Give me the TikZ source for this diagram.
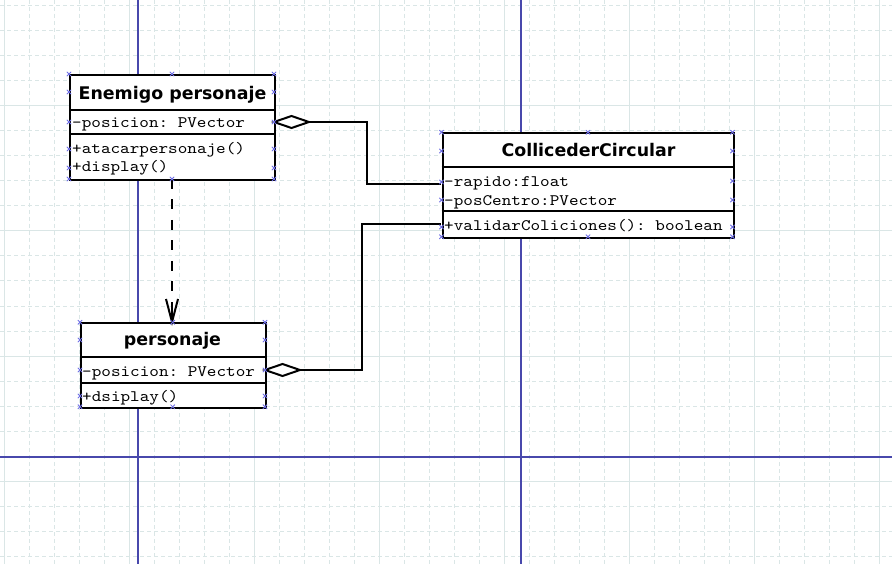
\documentclass[tikz,border=0pt]{standalone}
\usepackage{fontspec}
\setmonofont{lmmono10-regular}[Extension=.otf, FakeStretch=1.143]
\newfontfamily\titlefont{DejaVu Sans}
\definecolor{gridc}{RGB}{218,230,230}
\definecolor{axisc}{RGB}{72,72,172}
\definecolor{handc}{RGB}{110,110,230}
\tikzset{
  umlbox/.style={draw=black, line width=2pt, fill=white, rectangle, inner sep=0pt, anchor=north west},
  sepline/.style={draw=black, line width=2pt},
  titletext/.style={font=\titlefont\bfseries\fontsize{17.4}{20}\selectfont, inner sep=0pt, anchor=base},
  membertext/.style={font=\ttfamily\fontsize{16}{18}\selectfont, inner sep=0pt, anchor=base west},
  conn/.style={draw=black, line width=2pt},
  diam/.style={draw=black, line width=2pt, fill=white, line join=miter},
  dep/.style={draw=black, line width=2.2pt, dash pattern=on 10pt off 10.5pt},
  xmark/.pic={\draw[handc, line width=0.8pt] (-2.2,-2.2) -- (2.2,2.2) (-2.2,2.2) -- (2.2,-2.2);}
}
\begin{document}
\begin{tikzpicture}[x=1pt, y=-1pt]
\useasboundingbox (0,0) rectangle (892,564);
\fill[white] (0,0) rectangle (892,564);
% grid
\foreach \gx in {29,54,79,104,154,179,204,229,279,304,329,354,404,429,454,479,529,554,579,604,654,679,704,729,779,804,829,854}
  \draw[gridc, line width=1pt, dash pattern=on 4pt off 3pt] (\gx,0) -- (\gx,564);
\foreach \gy in {6,31,56,81,131,156,181,206,256,281,306,331,381,406,431,506,531,556}
  \draw[gridc, line width=1pt, dash pattern=on 4pt off 3pt] (0,\gy) -- (892,\gy);
\foreach \gx in {4,129,254,379,504,629,754,879}
  \draw[gridc, line width=1pt] (\gx,0) -- (\gx,564);
\foreach \gy in {106,231,356,481}
  \draw[gridc, line width=1pt] (0,\gy) -- (892,\gy);
\draw[axisc, line width=1.3pt] (138,0) -- (138,564);
\draw[axisc, line width=1.3pt] (521,0) -- (521,564);
\draw[axisc, line width=1.3pt] (0,457) -- (892,457);

% connector anchors
\coordinate (enemAggA) at (274,122);
\coordinate (enemAggB) at (309,122);
\coordinate (collA) at (441,184);
\coordinate (persAggA) at (265,370);
\coordinate (persAggB) at (300,370);
\coordinate (collB) at (441,224);
\coordinate (enemBot) at (172,179);
\coordinate (persTop) at (172,322);
\coordinate (headL) at (166,299);
\coordinate (headR) at (178,299);
\coordinate (headM) at (172,306);

% connectors (behind boxes)
\draw[conn] (enemAggB) -- (367,122) -- (367,184) -- (collA);
\draw[conn] (persAggB) -- (362,370) -- (362,224) -- (collB);
\draw[dep] (enemBot) -- (headM);

% Box 1: Enemigo personaje
\node[umlbox, minimum width=205pt, minimum height=105pt] (enemigo) at (69,74) {};
\draw[sepline] (69,110) -- (274,110);
\draw[sepline] (69,134.5) -- (274,134.5);
\node[titletext] (enemTitle) at (172.5,99.3) {Enemigo personaje};
\node[membertext] (enemA1) at (72,128) {-posicion: PVector};
\node[membertext] (enemM1) at (72,153.5) {+atacarpersonaje()};
\node[membertext] (enemM2) at (72,172) {+display()};

% Box 2: CollicederCircular
\node[umlbox, minimum width=291pt, minimum height=104.5pt] (coll) at (441.5,132.3) {};
\draw[sepline] (441.5,166.7) -- (732.5,166.7);
\draw[sepline] (441.5,211) -- (732.5,211);
\node[titletext] (collTitle) at (588.5,156.5) {CollicederCircular};
\node[membertext] (collA1) at (444,186.5) {-rapido:float};
\node[membertext] (collA2) at (444,206) {-posCentro:PVector};
\node[membertext] (collM1) at (444,231) {+validarColiciones(): boolean};

% Box 3: personaje
\node[umlbox, minimum width=185pt, minimum height=84.5pt] (pers) at (80,322.3) {};
\draw[sepline] (80,356.7) -- (265,356.7);
\draw[sepline] (80,382.7) -- (265,382.7);
\node[titletext] (persTitle) at (172.5,345) {personaje};
\node[membertext] (persA1) at (82,376) {-posicion: PVector};
\node[membertext] (persM1) at (82,401.5) {+dsiplay()};

% aggregation diamonds
\draw[diam] (enemAggA) -- (291.5,116) -- (enemAggB) -- (291.5,128) -- cycle;
\draw[diam] (persAggA) -- (282.5,364) -- (persAggB) -- (282.5,376) -- cycle;
% dependency head
\draw[conn, line join=miter] (headL) -- (persTop) -- (headR);
\draw[conn] (headM) -- (persTop);

% selection handles
\foreach \hx/\hy in {69/74,172/74,274/74,69/92,274/92,69/122,274/122,69/149,274/149,69/168,274/168,69/179,172/179,274/179,
  441.5/132.3,588/132.3,732.5/132.3,441.5/151,732.5/151,441.5/182,732.5/181,441.5/200,732.5/200,441.5/227,732.5/227,441.5/236.8,588/236.8,732.5/236.8,
  80/322.3,172.7/322.3,265/322.3,80/340,265/340,80/370,265/370,80/396,265/396,80/406.8,172.7/406.8,265/406.8}
  \pic at (\hx,\hy) {xmark};
\end{tikzpicture}
\end{document}
